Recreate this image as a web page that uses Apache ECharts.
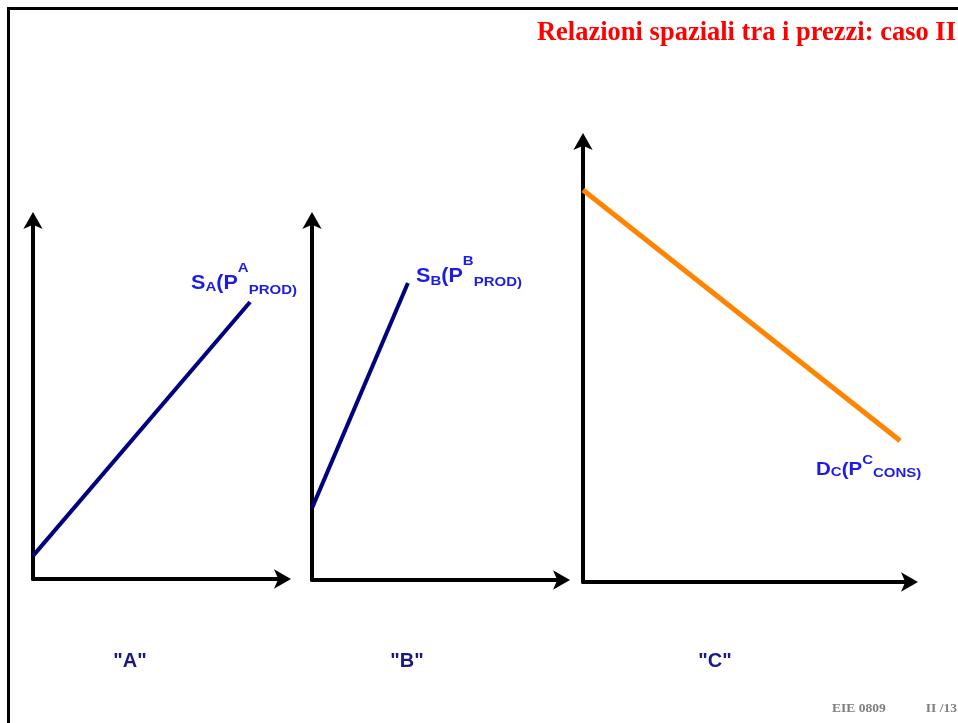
<!DOCTYPE html>
<html>
<head>
<meta charset="utf-8">
<script src="https://cdn.jsdelivr.net/npm/echarts@6/dist/echarts.min.js"></script>
<style>
html,body{margin:0;padding:0;background:#fff;}
#chart{width:958px;height:723px;}
</style>
</head>
<body>
<div id="chart"></div>
<script>
// ---- data ----
var titleText = 'Relazioni spaziali tra i prezzi: caso II';
var footerLeft = 'EIE 0809';
var footerRight = 'II /13';
var panelNames = ['"A"', '"B"', '"C"'];
// curves (x, y) on 0..100 scales
var supplyA = [[0, 6.4], [85.8, 76.5]];
var supplyB = [[0, 19.8], [37.9, 81.8]];
var demandC = [[0, 88.3], [96.1, 31.8]];
// curve labels: main letter, subscript, superscript, trailing subscript
var labelA = ['S', 'A', 'A', 'PROD)'];
var labelB = ['S', 'B', 'B', 'PROD)'];
var labelC = ['D', 'C', 'C', 'CONS)'];

var chart = echarts.init(document.getElementById('chart'));

var mctx = document.createElement('canvas').getContext('2d');
function measure(t, font) { mctx.font = font; return mctx.measureText(t).width; }

var FAM = '"Liberation Sans", Arial, sans-serif';
var BLUE = '#1c1ce6';
function curveLabel(parts, x, base, offs, big, small) {
  var items = [];
  var seq = [
    {t: parts[0], fs: big, b: base, sx: 1.08},
    {t: parts[1], fs: small, b: base + offs[0], sx: 1.2},
    {t: '(P', fs: big, b: base, sx: 1.08},
    {t: parts[2], fs: small, b: base + offs[1], sx: 1.2},
    {t: parts[3], fs: small, b: base + offs[2], sx: 1.2}
  ];
  var cx = x;
  seq.forEach(function (p) {
    var font = 'bold ' + p.fs + 'px ' + FAM;
    items.push({
      type: 'text', x: cx, y: p.b - 0.35 * p.fs, scaleX: p.sx,
      style: {text: p.t, font: font, fill: BLUE, align: 'left', verticalAlign: 'middle'}
    });
    cx += measure(p.t, font) * p.sx;
  });
  return items;
}

function axisDef(gi) {
  return {
    type: 'value', gridIndex: gi, min: 0, max: 100,
    splitLine: {show: false}, axisTick: {show: false}, axisLabel: {show: false},
    axisLine: {show: true, onZero: false, symbol: ['none', 'arrow'], symbolSize: [14.5, 17],
      symbolOffset: [0, 5],
      lineStyle: {color: '#000', width: 4}}
  };
}

var grids = [
  {left: 33, top: 217, width: 253, height: 362},
  {left: 312, top: 217, width: 253, height: 363},
  {left: 583, top: 138, width: 330, height: 444}
];

var graphics = [
  {type: 'rect', shape: {x: 7, y: 7, width: 960, height: 3}, style: {fill: '#000'}},
  {type: 'rect', shape: {x: 7, y: 7, width: 3, height: 730}, style: {fill: '#000'}},
  {type: 'text', right: 2, top: 20, style: {text: titleText, font: 'bold 26.5px "Liberation Serif", "Times New Roman", serif', fill: '#ff0000'}},
  {type: 'text', left: 832, top: 702, style: {text: footerLeft, font: 'bold 13.5px "Liberation Serif", serif', fill: '#808080'}},
  {type: 'text', right: 1, top: 702, style: {text: footerRight, font: 'bold 13.5px "Liberation Serif", serif', fill: '#808080'}}
];
var nameX = [130, 407, 715];
panelNames.forEach(function (n, i) {
  graphics.push({type: 'text', x: nameX[i], y: 661,
    style: {text: n, font: 'bold 20px ' + FAM, fill: '#1a1a80', align: 'center', verticalAlign: 'middle'}});
});
graphics = graphics.concat(curveLabel(labelA, 191, 290, [2, -17, 5], 20, 12.5));
graphics = graphics.concat(curveLabel(labelB, 416, 283, [3, -17, 4], 20, 12.5));
graphics = graphics.concat(curveLabel(labelC, 816, 476, [1, -11, 2], 19, 12.5));

var option = {
  animation: false,
  backgroundColor: '#fff',
  grid: grids,
  xAxis: [axisDef(0), axisDef(1), axisDef(2)],
  yAxis: [axisDef(0), axisDef(1), axisDef(2)],
  series: [
    {type: 'line', xAxisIndex: 0, yAxisIndex: 0, data: supplyA, symbol: 'none', lineStyle: {color: '#000080', width: 4}},
    {type: 'line', xAxisIndex: 1, yAxisIndex: 1, data: supplyB, symbol: 'none', lineStyle: {color: '#000080', width: 4}},
    {type: 'line', xAxisIndex: 2, yAxisIndex: 2, data: demandC, symbol: 'none', lineStyle: {color: '#ff8400', width: 5}}
  ],
  graphic: graphics
};
chart.setOption(option);
</script>
</body>
</html>
